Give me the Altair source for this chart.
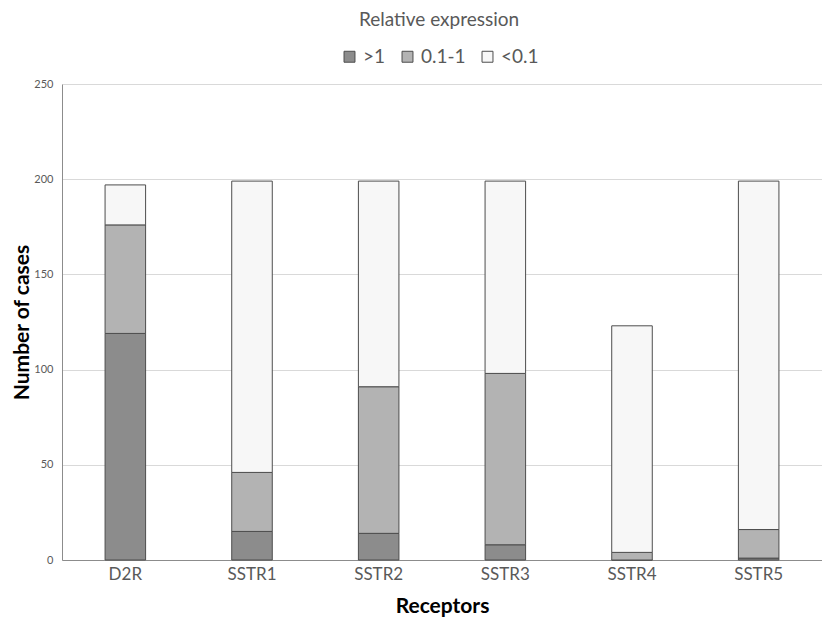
import altair as alt
import pandas as pd

receptors = ["D2R", "SSTR1", "SSTR2", "SSTR3", "SSTR4", "SSTR5"]
high = [119, 15, 14, 8, 0, 1]        # >1
mid = [57, 31, 77, 90, 4, 15]        # 0.1-1
low = [21, 153, 108, 101, 119, 183]  # <0.1
levels = [">1", "0.1-1", "<0.1"]
colors = ["#8c8c8c", "#b3b3b3", "#f7f7f7"]

rows = []
for i, r in enumerate(receptors):
    for k, (lvl, vals) in enumerate(zip(levels, [high, mid, low])):
        rows.append({"Receptor": r, "Level": lvl, "Count": vals[i], "ord": k})
df = pd.DataFrame(rows)

FONT = "Lato"

chart = alt.Chart(df).mark_bar(stroke="#4d4d4d", strokeWidth=1).encode(
    x=alt.X("Receptor:N", sort=receptors,
            scale=alt.Scale(paddingInner=0.68, paddingOuter=0.34),
            axis=alt.Axis(title="Receptors", labelAngle=0, labelFontSize=17,
                          labelColor="#595959", labelFont=FONT, labelPadding=6,
                          titleFontSize=21, titleFont=FONT, titleFontWeight="bold",
                          titleColor="#000000", titlePadding=13, ticks=False,
                          domainColor="#8c8c8c", grid=False)),
    y=alt.Y("Count:Q", stack="zero",
            scale=alt.Scale(domain=[0, 250]),
            axis=alt.Axis(title="Number of cases", values=[0, 50, 100, 150, 200, 250],
                          labelFontSize=11, labelColor="#595959", labelFont=FONT,
                          labelPadding=9, titleFontSize=21, titleFont=FONT,
                          titleFontWeight="bold", titleColor="#000000", titlePadding=1,
                          ticks=False, domainColor="#8c8c8c",
                          gridColor="#d9d9d9", gridWidth=1)),
    color=alt.Color("Level:N", sort=levels,
                    scale=alt.Scale(domain=levels, range=colors),
                    legend=alt.Legend(title="Relative expression", orient="none",
                                      direction="horizontal", legendX=278, legendY=-73,
                                      titleAnchor="middle", titleFontSize=19,
                                      titleFontWeight="normal", titleColor="#595959",
                                      titleFont=FONT, titlePadding=17,
                                      labelFontSize=19, labelColor="#595959",
                                      labelFont=FONT, symbolType="square",
                                      symbolSize=120, symbolStrokeColor="#4d4d4d",
                                      symbolStrokeWidth=1, columnPadding=12,
                                      labelOffset=4)),
    order=alt.Order("ord:Q", sort="ascending"),
).properties(
    width=760, height=476,
    padding={"left": 3, "top": 3, "right": 0, "bottom": 3},
).configure_view(stroke=None)

chart.save("out.html", embed_options={"renderer": "svg", "actions": False})
